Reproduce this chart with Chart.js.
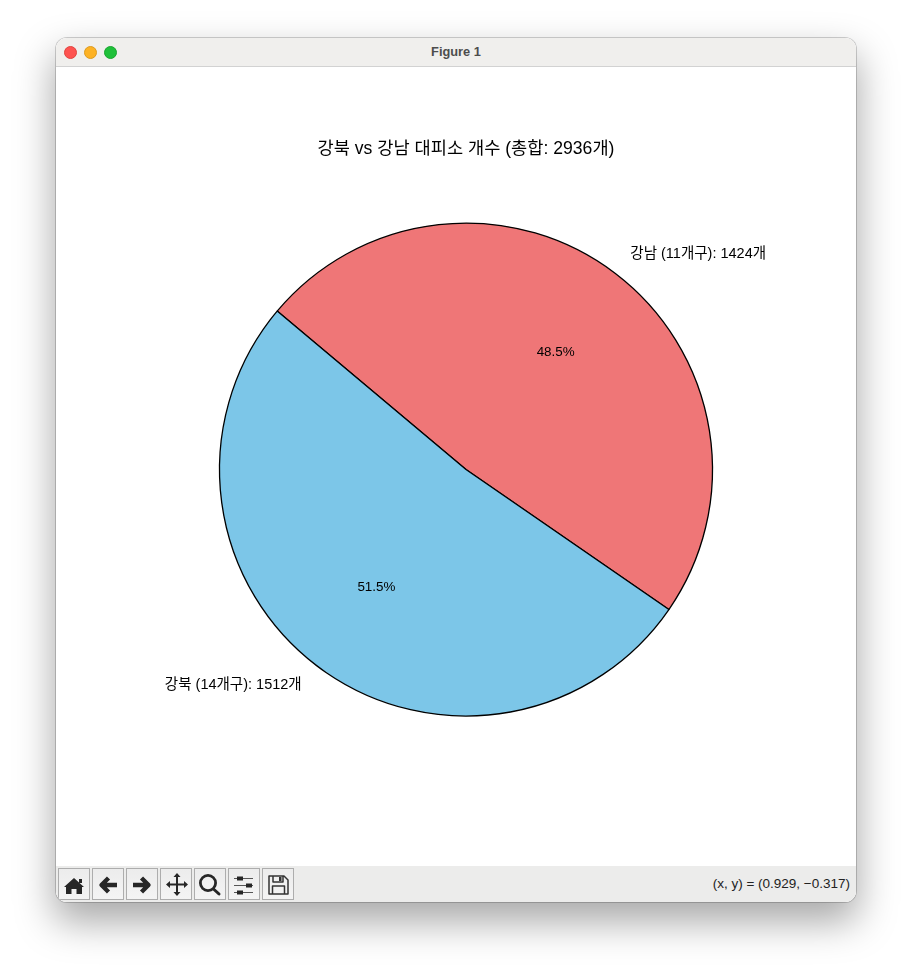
<!DOCTYPE html>
<html>
<head>
<meta charset="utf-8">
<script src="https://cdn.jsdelivr.net/npm/chart.js@4"></script>
<style>
html, body { margin: 0; padding: 0; background: #fff; width: 912px; height: 976px; overflow: hidden; }
#win { position: absolute; left: 56px; top: 38px; width: 800px; height: 864px; border-radius: 11px; overflow: hidden; background: #fff; }
#shadow { position: absolute; left: 56px; top: 38px; width: 800px; height: 864px; border-radius: 11px; box-shadow: 0 0 0 1px rgba(0,0,0,.18), 0 18px 38px 2px rgba(0,0,0,.34); }
#titlebar { position: absolute; left: 0; top: 0; width: 800px; height: 28px; background: #f0efed; border-bottom: 1px solid #d2d2d2; text-align: center; font: bold 12.8px/28px "Liberation Sans", sans-serif; color: #4d4d4d; }
.dot { position: absolute; top: 8px; width: 11px; height: 11px; border-radius: 50%; }
#fig { position: absolute; left: 0; top: 29px; width: 800px; height: 799px; }
#toolbar { position: absolute; left: 0; top: 828px; width: 800px; height: 36px; background: #ececeb; }
.btn { position: absolute; top: 2px; width: 30px; height: 30px; border: 1px solid #adadad; background: linear-gradient(#ececec, #f4f4f4); }
.btn svg { position: absolute; left: 0; top: 0; width: 30px; height: 30px; }
#coords { position: absolute; right: 6px; top: 10px; font: 13.5px/16px "Liberation Sans", sans-serif; color: #222; }
</style>
</head>
<body>
<div id="shadow"></div>
<div id="win">
  <div id="titlebar">Figure 1
    <span class="dot" style="left:8px;background:#fe5350;border:.5px solid #e0443e"></span>
    <span class="dot" style="left:28px;background:#fdb224;border:.5px solid #dc9a1e"></span>
    <span class="dot" style="left:48px;background:#1fc03a;border:.5px solid #1aa52f"></span>
  </div>
  <div id="fig"><canvas id="pieChart" width="800" height="799"></canvas></div>
  <div id="toolbar">
    <div class="btn" style="left:2px"><svg viewBox="0 0 30 30"><path fill="#262626" d="M15 9 L25 18 L23 18 L23 25 L17.5 25 L17.5 20 L12.5 20 L12.5 25 L7 25 L7 18 L5 18 Z"/><rect x="20" y="10" width="3" height="4" fill="#262626"/></svg></div>
    <div class="btn" style="left:36px"><svg viewBox="0 0 30 30"><path fill="none" stroke="#262626" stroke-width="4.4" stroke-linejoin="round" d="M24 16 H9 M15.5 9 L8.5 16 L15.5 23"/></svg></div>
    <div class="btn" style="left:70px"><svg viewBox="0 0 30 30"><path fill="none" stroke="#262626" stroke-width="4.4" stroke-linejoin="round" d="M6 16 H21 M14.5 9 L21.5 16 L14.5 23"/></svg></div>
    <div class="btn" style="left:104px"><svg viewBox="0 0 30 30"><path fill="none" stroke="#262626" stroke-width="2" d="M16 7 V24 M8 15.5 H24"/><path fill="#262626" d="M16 4 L19.5 8 H12.5 Z M16 27 L19.5 23 H12.5 Z M5 15.5 L9 12 V19 Z M27 15.5 L23 12 V19 Z"/></svg></div>
    <div class="btn" style="left:138px"><svg viewBox="0 0 30 30"><circle cx="13" cy="14" r="7.6" fill="none" stroke="#262626" stroke-width="2.8"/><path stroke="#262626" stroke-width="3" stroke-linecap="round" d="M18.5 20 L24 25"/></svg></div>
    <div class="btn" style="left:172px"><svg viewBox="0 0 30 30"><path stroke="#555" stroke-width="1.2" d="M5 9.5 H24 M5 16.5 H24 M5 23.5 H24"/><path fill="#262626" d="M8 7.5 h6 v4 h-6 Z M17 14.5 h6 v4 h-6 Z M8 21.5 h6 v4 h-6 Z"/></svg></div>
    <div class="btn" style="left:206px"><svg viewBox="0 0 30 30"><path fill="none" stroke="#333" stroke-width="1.5" stroke-linejoin="round" d="M6 7 H21 L25 11 V25 H6 Z M10 7 V13 H20 V7 M9.5 25 V17 H21.5 V25"/><rect x="16" y="8" width="2.5" height="4" fill="#333"/></svg></div>
    <div id="coords">(x, y) = (0.929, −0.317)</div>
  </div>
</div>
<script>
// 강남 먼저: 시계 방향으로 그려서 원본 배치와 맞춤
var categories = ['강남 (11개구)', '강북 (14개구)'];
var shelterCounts = [1424, 1512];
var sliceColors = ['#ef7677', '#7cc6e8'];
var chartTitle = '강북 vs 강남 대피소 개수 (총합: 2936개)';
var fontFamily = '"Liberation Sans", "Noto Sans CJK KR", sans-serif';

// 조각 바깥 라벨과 안쪽 퍼센트
var sliceLabels = {
    id: 'sliceLabels',
    afterDatasetsDraw: function(chart) {
        var ctx = chart.ctx;
        var total = shelterCounts.reduce(function(a, b) { return a + b; }, 0);
        ctx.save();
        ctx.fillStyle = '#000';
        ctx.textBaseline = 'middle';
        chart.getDatasetMeta(0).data.forEach(function(arc, i) {
            var p = arc.getProps(['x', 'y', 'startAngle', 'endAngle', 'outerRadius'], true);
            var mid = (p.startAngle + p.endAngle) / 2;
            var cos = Math.cos(mid), sin = Math.sin(mid);
            ctx.font = '14.5px ' + fontFamily;
            ctx.textAlign = cos > 0 ? 'left' : 'right';
            ctx.fillText(categories[i] + ': ' + shelterCounts[i] + '개',
                p.x + cos * p.outerRadius * 1.1, p.y + sin * p.outerRadius * 1.1);
            ctx.font = '13.4px ' + fontFamily;
            ctx.textAlign = 'center';
            ctx.fillText((shelterCounts[i] / total * 100).toFixed(1) + '%',
                p.x + cos * p.outerRadius * 0.6, p.y + sin * p.outerRadius * 0.6);
        });
        ctx.restore();
    }
};

var ctx = document.getElementById('pieChart').getContext('2d');
var pieChart = new Chart(ctx, {
    type: 'pie',
    data: {
        labels: categories,
        datasets: [{
            data: shelterCounts,
            backgroundColor: sliceColors,
            borderColor: '#000',
            borderWidth: 1.3,
            borderAlign: 'center',
            radius: 246.5
        }]
    },
    options: {
        responsive: false,
        animation: false,
        rotation: -50,
        events: [],
        layout: { padding: { left: 20, right: 0, top: 0, bottom: 87 } },
        plugins: {
            legend: { display: false },
            tooltip: { enabled: false },
            title: {
                display: true,
                text: chartTitle,
                color: '#000',
                font: { family: fontFamily, size: 17.6, weight: 'normal' },
                padding: { top: 72, bottom: 0 }
            }
        }
    },
    plugins: [sliceLabels]
});
</script>
</body>
</html>
